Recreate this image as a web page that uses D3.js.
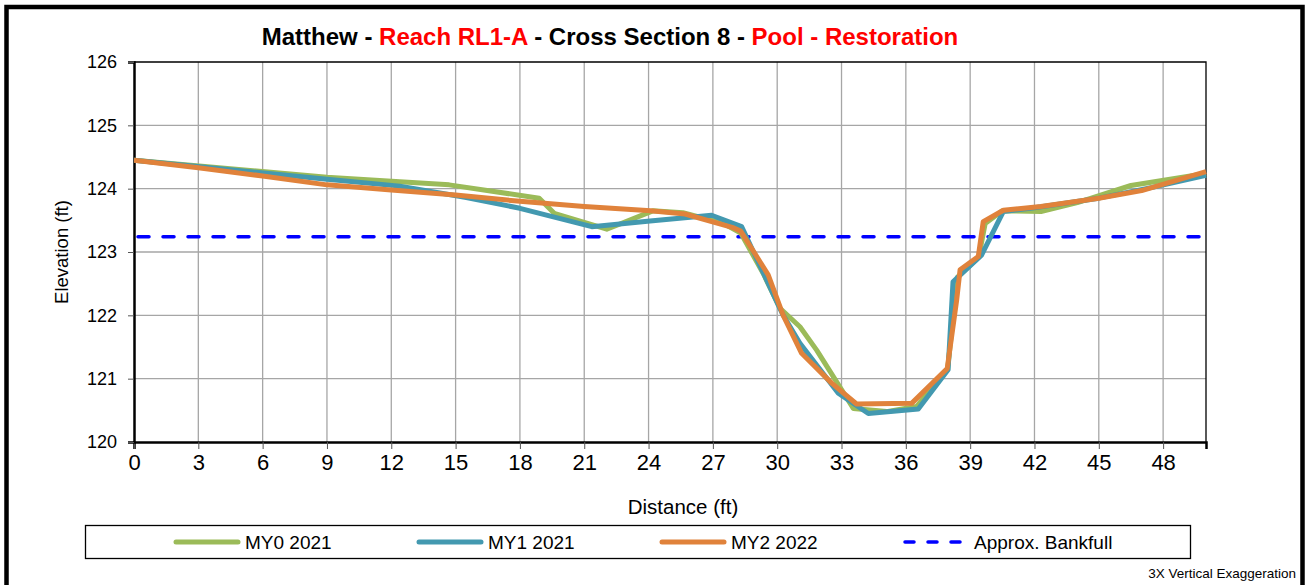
<!DOCTYPE html>
<html>
<head>
<meta charset="utf-8">
<script src="https://cdn.jsdelivr.net/npm/d3@7"></script>
<style>
  html, body { margin: 0; padding: 0; background: #fff; }
  svg { display: block; font-family: "Liberation Sans", Arial, sans-serif; }
</style>
</head>
<body>
<svg id="chart" width="1307" height="585"></svg>
<script>
// ---- Data ----
const xTicks = [0, 3, 6, 9, 12, 15, 18, 21, 24, 27, 30, 33, 36, 39, 42, 45, 48];
const yTicks = [120, 121, 122, 123, 124, 125, 126];
const seriesNames = ["MY0 2021", "MY1 2021", "MY2 2022"];

const my0Dist = [0, 9, 12.4, 14.7, 18.9, 19.6, 22.05, 24.2, 25.6, 27.5, 28.3, 29.35, 30.13, 31.06, 31.84, 33.55, 35.1, 36.5, 37.95, 38.4, 39.4, 39.7, 40.5, 42.3, 44, 46.5, 50];
const my0Elev = [124.45, 124.18, 124.11, 124.06, 123.85, 123.61, 123.36, 123.65, 123.62, 123.45, 123.3, 122.66, 122.11, 121.82, 121.45, 120.53, 120.48, 120.56, 121.15, 122.6, 122.92, 123.45, 123.65, 123.64, 123.78, 124.05, 124.24];

const my1Dist = [0, 9, 12.4, 15.5, 18.0, 21.35, 24.07, 26.94, 28.34, 30.28, 31.06, 32.85, 34.25, 36.58, 37.97, 38.2, 39.53, 40.55, 42.0, 45.0, 47.5, 50];
const my1Elev = [124.45, 124.15, 124.04, 123.86, 123.69, 123.4, 123.49, 123.58, 123.4, 122.0, 121.56, 120.77, 120.45, 120.52, 121.14, 122.53, 122.95, 123.64, 123.7, 123.85, 124.02, 124.21];

const my2Dist = [0, 3, 6, 9, 12, 15, 18, 21, 24.1, 25.7, 27.9, 28.3, 29.58, 30.28, 31.14, 32.54, 33.7, 36.27, 37.93, 38.37, 38.53, 39.38, 39.61, 40.55, 42.3, 45, 47, 50];
const my2Elev = [124.45, 124.33, 124.2, 124.06, 123.98, 123.9, 123.8, 123.72, 123.65, 123.6, 123.39, 123.33, 122.64, 122.0, 121.4, 120.93, 120.6, 120.61, 121.16, 122.24, 122.72, 122.93, 123.48, 123.66, 123.72, 123.85, 123.97, 124.27];

const bankfullElev = 123.24;
const xDomain = [0, 50];
const yDomain = [120, 126];

// ---- Layout ----
const svg = d3.select("#chart");
const plot = { left: 134, top: 62, right: 1206, bottom: 442 };
const colors = ["#9BBB59", "#4399B0", "#E0823B"];
const bankColor = "#0000FF";

const x = d3.scaleLinear().domain(xDomain).range([plot.left, plot.right]);
const y = d3.scaleLinear().domain(yDomain).range([plot.bottom, plot.top]);

// outer frame
svg.append("rect").attr("x", 6.5).attr("y", 7).attr("width", 1296).attr("height", 600)
  .attr("fill", "#fff").attr("stroke", "#000").attr("stroke-width", 4.5);

// title
const title = svg.append("text").attr("x", 610).attr("y", 45).attr("text-anchor", "middle")
  .attr("font-size", 24).attr("font-weight", "bold");
const titleParts = [["Matthew - ", "#000"], ["Reach RL1-A", "#FF0000"], [" - Cross Section 8 - ", "#000"], ["Pool - Restoration", "#FF0000"]];
titleParts.forEach(p => title.append("tspan").attr("fill", p[1]).text(p[0]));

// gridlines
svg.append("g").selectAll("line").data(xTicks.filter(d => d > 0)).join("line")
  .attr("x1", d => x(d)).attr("x2", d => x(d)).attr("y1", plot.top).attr("y2", plot.bottom)
  .attr("stroke", "#a6a6a6").attr("stroke-width", 1.3);
svg.append("g").selectAll("line").data(yTicks.filter(d => d > 120 && d < 126)).join("line")
  .attr("x1", plot.left).attr("x2", plot.right).attr("y1", d => y(d)).attr("y2", d => y(d))
  .attr("stroke", "#a6a6a6").attr("stroke-width", 1.3);

// plot border top/right
svg.append("path").attr("d", `M${plot.left},${plot.top}H${plot.right}V${plot.bottom}`)
  .attr("fill", "none").attr("stroke", "#000").attr("stroke-width", 1.3);

// axes
const xAxis = d3.axisBottom(x).tickValues(xTicks).tickSize(7).tickPadding(5).tickFormat(d3.format("d"));
const gx = svg.append("g").attr("transform", `translate(0,${plot.bottom})`).call(xAxis);
gx.select(".domain").attr("stroke", "#000").attr("stroke-width", 2.5);
gx.selectAll(".tick line").attr("stroke", "#555").attr("stroke-width", 1);
gx.selectAll(".tick text").attr("font-size", 22).attr("fill", "#000").attr("font-family", "Liberation Sans, Arial, sans-serif");

const yAxis = d3.axisLeft(y).tickValues(yTicks).tickSize(6).tickPadding(11).tickFormat(d3.format("d"));
const gy = svg.append("g").attr("transform", `translate(${plot.left},0)`).call(yAxis);
gy.select(".domain").attr("stroke", "#000").attr("stroke-width", 2.5);
gy.selectAll(".tick line").attr("stroke", "#555").attr("stroke-width", 1);
gy.selectAll(".tick text").attr("font-size", 18).attr("fill", "#000").attr("font-family", "Liberation Sans, Arial, sans-serif");

// axis titles
svg.append("text").attr("transform", `translate(68,${(plot.top + plot.bottom) / 2}) rotate(-90)`)
  .attr("text-anchor", "middle").attr("font-size", 18.5).text("Elevation (ft)");
svg.append("text").attr("x", 683).attr("y", 514).attr("text-anchor", "middle")
  .attr("font-size", 20.5).text("Distance (ft)");

// clip
svg.append("clipPath").attr("id", "clip").append("rect")
  .attr("x", plot.left).attr("y", plot.top - 5).attr("width", plot.right - plot.left + 5).attr("height", plot.bottom - plot.top + 5);

// bankfull line
svg.append("line").attr("x1", x(xDomain[0]) + 4).attr("x2", x(xDomain[1]) - 2)
  .attr("y1", y(bankfullElev)).attr("y2", y(bankfullElev))
  .attr("stroke", bankColor).attr("stroke-width", 3.5).attr("stroke-dasharray", "11,14")
  .attr("stroke-linecap", "round");

// series
const line = d3.line().x(d => x(d[0])).y(d => y(d[1]));
const seriesData = [
  d3.zip(my0Dist, my0Elev),
  d3.zip(my1Dist, my1Elev),
  d3.zip(my2Dist, my2Elev)
];
seriesData.forEach((s, i) => {
  svg.append("path").datum(s).attr("d", line).attr("fill", "none")
    .attr("stroke", colors[i]).attr("stroke-width", 5).attr("stroke-linejoin", "round")
    .attr("clip-path", "url(#clip)");
});

// legend
const lg = svg.append("g");
lg.append("rect").attr("x", 85.5).attr("y", 525.5).attr("width", 1105).attr("height", 33)
  .attr("fill", "#fff").attr("stroke", "#000").attr("stroke-width", 1.3);
const legendItems = [
  { name: seriesNames[0], color: colors[0], dash: false },
  { name: seriesNames[1], color: colors[1], dash: false },
  { name: seriesNames[2], color: colors[2], dash: false },
  { name: "Approx. Bankfull", color: bankColor, dash: true }
];
legendItems.forEach((it, i) => {
  const x0 = 176 + i * 243;
  lg.append("line").attr("x1", x0).attr("x2", x0 + 62).attr("y1", 542).attr("y2", 542)
    .attr("stroke", it.color).attr("stroke-width", it.dash ? 3.5 : 5)
    .attr("stroke-linecap", "round")
    .attr("stroke-dasharray", it.dash ? "9,14" : null);
  lg.append("text").attr("x", x0 + 69).attr("y", 549).attr("font-size", 19).text(it.name);
});

// note
svg.append("text").attr("x", 1296).attr("y", 578).attr("text-anchor", "end")
  .attr("font-size", 13.5).text("3X Vertical Exaggeration");
</script>
</body>
</html>
